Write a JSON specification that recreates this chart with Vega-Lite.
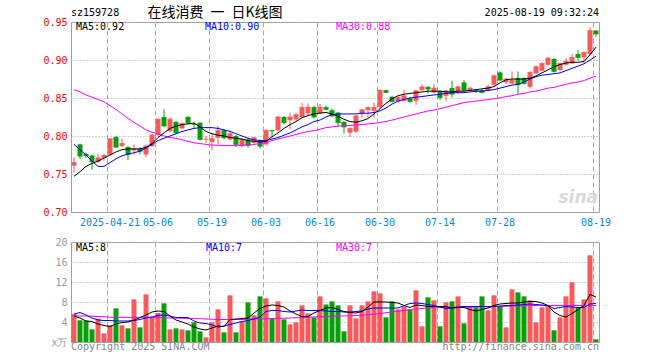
{
"$schema":"https://vega.github.io/schema/vega-lite/v6.json",
"background":"#ffffff",
"padding":{"left":42,"top":5,"right":5,"bottom":5},
"spacing":30,
"bounds":"flush",
"config":{"font":"DejaVu Sans Mono","view":{"stroke":"#a0a0a0","strokeWidth":1},"axis":{"labelFont":"DejaVu Sans Mono","labelFontSize":10,"labelOverlap":false}},
"datasets":{"k":[
{"d":"2025-04-11","o":0.761,"h":0.772,"l":0.752,"c":0.765,"v":5.6,"m5":0.747,"m10":0.789,"m30":0.861,"vm5":5.2,"vm10":5.6,"vm30":5.3,"dir":"up"},
{"d":"2025-04-14","o":0.789,"h":0.790,"l":0.770,"c":0.7735,"v":4.33,"m5":0.753,"m10":0.782,"m30":0.858,"vm5":4.8,"vm10":5.9,"vm30":5.2,"dir":"down"},
{"d":"2025-04-15","o":0.7766,"h":0.778,"l":0.771,"c":0.7744,"v":4.27,"m5":0.760,"m10":0.775,"m30":0.854,"vm5":4.2,"vm10":5.4,"vm30":5.2,"dir":"down"},
{"d":"2025-04-16","o":0.7744,"h":0.7757,"l":0.7555,"c":0.766,"v":2.53,"m5":0.764,"m10":0.767,"m30":0.851,"vm5":4.1,"vm10":4.8,"vm30":5.15,"dir":"down"},
{"d":"2025-04-17","o":0.766,"h":0.7766,"l":0.7647,"c":0.7713,"v":4.67,"m5":0.767,"m10":0.760,"m30":0.848,"vm5":3.6,"vm10":4.4,"vm30":5.1,"dir":"up"},
{"d":"2025-04-18","o":0.7713,"h":0.7766,"l":0.7678,"c":0.7744,"v":1.73,"m5":0.771,"m10":0.760,"m30":0.845,"vm5":3.3,"vm10":4.3,"vm30":5.05,"dir":"up"},
{"d":"2025-04-21","o":0.7757,"h":0.7964,"l":0.7735,"c":0.7964,"v":3.33,"m5":0.775,"m10":0.765,"m30":0.840,"vm5":3.1,"vm10":4.3,"vm30":4.95,"dir":"up"},
{"d":"2025-04-22","o":0.7986,"h":0.800,"l":0.7845,"c":0.7854,"v":6.73,"m5":0.779,"m10":0.770,"m30":0.835,"vm5":3.6,"vm10":4.2,"vm30":4.93,"dir":"down"},
{"d":"2025-04-23","o":0.7867,"h":0.7964,"l":0.7858,"c":0.7902,"v":3.33,"m5":0.782,"m10":0.774,"m30":0.829,"vm5":3.9,"vm10":4.2,"vm30":4.93,"dir":"up"},
{"d":"2025-04-24","o":0.7854,"h":0.7867,"l":0.7682,"c":0.7757,"v":2.73,"m5":0.783,"m10":0.776,"m30":0.823,"vm5":4.0,"vm10":4.2,"vm30":4.93,"dir":"down"},
{"d":"2025-04-25","o":0.781,"h":0.7889,"l":0.7757,"c":0.7832,"v":8.53,"m5":0.783,"m10":0.778,"m30":0.818,"vm5":4.4,"vm10":4.3,"vm30":4.93,"dir":"up"},
{"d":"2025-04-28","o":0.7832,"h":0.7854,"l":0.7757,"c":0.780,"v":2.93,"m5":0.783,"m10":0.780,"m30":0.813,"vm5":4.9,"vm10":4.5,"vm30":4.93,"dir":"down"},
{"d":"2025-04-29","o":0.7757,"h":0.7889,"l":0.7722,"c":0.7867,"v":9.53,"m5":0.785,"m10":0.784,"m30":0.808,"vm5":5.4,"vm10":4.8,"vm30":4.93,"dir":"up"},
{"d":"2025-04-30","o":0.7867,"h":0.8022,"l":0.7854,"c":0.8013,"v":4.93,"m5":0.790,"m10":0.789,"m30":0.805,"vm5":6.0,"vm10":5.0,"vm30":4.93,"dir":"up"},
{"d":"2025-05-06","o":0.8013,"h":0.8233,"l":0.800,"c":0.822,"v":5.8,"m5":0.798,"m10":0.794,"m30":0.803,"vm5":6.2,"vm10":5.3,"vm30":4.93,"dir":"up"},
{"d":"2025-05-07","o":0.825,"h":0.8353,"l":0.812,"c":0.8132,"v":7.73,"m5":0.804,"m10":0.797,"m30":0.800,"vm5":6.1,"vm10":5.4,"vm30":4.85,"dir":"down"},
{"d":"2025-05-08","o":0.8066,"h":0.8245,"l":0.805,"c":0.822,"v":2.53,"m5":0.810,"m10":0.800,"m30":0.798,"vm5":5.2,"vm10":5.2,"vm30":4.8,"dir":"up"},
{"d":"2025-05-09","o":0.8184,"h":0.8198,"l":0.8022,"c":0.8044,"v":2.73,"m5":0.813,"m10":0.803,"m30":0.797,"vm5":4.4,"vm10":4.9,"vm30":4.8,"dir":"down"},
{"d":"2025-05-12","o":0.810,"h":0.8176,"l":0.8088,"c":0.8162,"v":2.53,"m5":0.815,"m10":0.806,"m30":0.795,"vm5":4.0,"vm10":4.9,"vm30":4.75,"dir":"up"},
{"d":"2025-05-13","o":0.825,"h":0.8264,"l":0.8154,"c":0.8176,"v":2.33,"m5":0.816,"m10":0.808,"m30":0.793,"vm5":3.6,"vm10":4.9,"vm30":4.7,"dir":"down"},
{"d":"2025-05-14","o":0.8162,"h":0.8189,"l":0.810,"c":0.8153,"v":3.93,"m5":0.817,"m10":0.810,"m30":0.791,"vm5":3.0,"vm10":4.2,"vm30":4.67,"dir":"down"},
{"d":"2025-05-15","o":0.8176,"h":0.8176,"l":0.7942,"c":0.7955,"v":2.13,"m5":0.812,"m10":0.811,"m30":0.790,"vm5":2.6,"vm10":3.8,"vm30":4.67,"dir":"down"},
{"d":"2025-05-16","o":0.7955,"h":0.800,"l":0.791,"c":0.796,"v":0.93,"m5":0.806,"m10":0.811,"m30":0.789,"vm5":2.4,"vm10":3.7,"vm30":4.6,"dir":"up"},
{"d":"2025-05-19","o":0.792,"h":0.8022,"l":0.781,"c":0.7964,"v":3.93,"m5":0.803,"m10":0.811,"m30":0.788,"vm5":2.8,"vm10":3.4,"vm30":4.55,"dir":"up"},
{"d":"2025-05-20","o":0.7977,"h":0.8132,"l":0.7889,"c":0.8075,"v":6.53,"m5":0.801,"m10":0.810,"m30":0.7878,"vm5":3.2,"vm10":3.0,"vm30":4.5,"dir":"up"},
{"d":"2025-05-21","o":0.8075,"h":0.8088,"l":0.7955,"c":0.7977,"v":1.93,"m5":0.800,"m10":0.808,"m30":0.7876,"vm5":3.1,"vm10":3.2,"vm30":4.5,"dir":"down"},
{"d":"2025-05-22","o":0.7955,"h":0.8075,"l":0.7942,"c":0.803,"v":9.33,"m5":0.798,"m10":0.806,"m30":0.7876,"vm5":4.5,"vm10":3.5,"vm30":4.5,"dir":"up"},
{"d":"2025-05-23","o":0.800,"h":0.8013,"l":0.7854,"c":0.7889,"v":1.93,"m5":0.797,"m10":0.803,"m30":0.7876,"vm5":4.6,"vm10":3.8,"vm30":4.5,"dir":"down"},
{"d":"2025-05-26","o":0.7867,"h":0.7969,"l":0.7854,"c":0.7955,"v":4.13,"m5":0.796,"m10":0.800,"m30":0.788,"vm5":4.7,"vm10":4.1,"vm30":4.5,"dir":"up"},
{"d":"2025-05-27","o":0.7955,"h":0.7977,"l":0.7845,"c":0.7876,"v":7.93,"m5":0.794,"m10":0.797,"m30":0.788,"vm5":4.8,"vm10":4.3,"vm30":4.55,"dir":"down"},
{"d":"2025-05-28","o":0.7911,"h":0.7986,"l":0.7898,"c":0.7977,"v":5.33,"m5":0.793,"m10":0.795,"m30":0.789,"vm5":5.8,"vm10":4.6,"vm30":4.6,"dir":"up"},
{"d":"2025-05-29","o":0.7933,"h":0.7955,"l":0.7836,"c":0.7867,"v":9.13,"m5":0.792,"m10":0.794,"m30":0.790,"vm5":6.7,"vm10":5.0,"vm30":4.6,"dir":"down"},
{"d":"2025-06-03","o":0.789,"h":0.8088,"l":0.7876,"c":0.8075,"v":8.73,"m5":0.793,"m10":0.794,"m30":0.791,"vm5":7.2,"vm10":6.1,"vm30":4.65,"dir":"up"},
{"d":"2025-06-04","o":0.8075,"h":0.8075,"l":0.798,"c":0.8066,"v":4.73,"m5":0.799,"m10":0.796,"m30":0.794,"vm5":7.4,"vm10":6.3,"vm30":4.7,"dir":"down"},
{"d":"2025-06-05","o":0.8075,"h":0.8264,"l":0.8066,"c":0.825,"v":8.13,"m5":0.804,"m10":0.798,"m30":0.796,"vm5":7.3,"vm10":6.3,"vm30":4.75,"dir":"up"},
{"d":"2025-06-06","o":0.825,"h":0.8264,"l":0.8154,"c":0.8176,"v":4.53,"m5":0.810,"m10":0.801,"m30":0.798,"vm5":7.0,"vm10":6.1,"vm30":4.75,"dir":"down"},
{"d":"2025-06-09","o":0.8207,"h":0.8308,"l":0.8088,"c":0.825,"v":3.53,"m5":0.815,"m10":0.804,"m30":0.800,"vm5":6.2,"vm10":6.0,"vm30":4.8,"dir":"up"},
{"d":"2025-06-10","o":0.822,"h":0.831,"l":0.820,"c":0.828,"v":3.93,"m5":0.819,"m10":0.808,"m30":0.802,"vm5":5.6,"vm10":6.2,"vm30":4.85,"dir":"up"},
{"d":"2025-06-11","o":0.825,"h":0.8436,"l":0.823,"c":0.8375,"v":7.33,"m5":0.824,"m10":0.812,"m30":0.804,"vm5":5.1,"vm10":6.4,"vm30":4.9,"dir":"up"},
{"d":"2025-06-12","o":0.830,"h":0.843,"l":0.826,"c":0.838,"v":5.73,"m5":0.827,"m10":0.815,"m30":0.806,"vm5":5.1,"vm10":6.3,"vm30":4.95,"dir":"up"},
{"d":"2025-06-13","o":0.838,"h":0.840,"l":0.823,"c":0.825,"v":4.93,"m5":0.829,"m10":0.819,"m30":0.807,"vm5":5.8,"vm10":6.3,"vm30":5.0,"dir":"down"},
{"d":"2025-06-16","o":0.830,"h":0.8418,"l":0.829,"c":0.838,"v":9.13,"m5":0.830,"m10":0.821,"m30":0.809,"vm5":6.3,"vm10":6.3,"vm30":5.05,"dir":"up"},
{"d":"2025-06-17","o":0.838,"h":0.840,"l":0.834,"c":0.835,"v":7.5,"m5":0.831,"m10":0.825,"m30":0.811,"vm5":6.8,"vm10":6.2,"vm30":5.1,"dir":"down"},
{"d":"2025-06-18","o":0.834,"h":0.836,"l":0.825,"c":0.8264,"v":8.13,"m5":0.829,"m10":0.828,"m30":0.812,"vm5":6.9,"vm10":6.1,"vm30":5.15,"dir":"down"},
{"d":"2025-06-19","o":0.8308,"h":0.832,"l":0.8119,"c":0.8176,"v":7.33,"m5":0.826,"m10":0.829,"m30":0.813,"vm5":6.5,"vm10":6.1,"vm30":5.2,"dir":"down"},
{"d":"2025-06-20","o":0.8185,"h":0.8198,"l":0.8031,"c":0.8119,"v":2.13,"m5":0.822,"m10":0.829,"m30":0.8135,"vm5":6.1,"vm10":6.0,"vm30":5.2,"dir":"down"},
{"d":"2025-06-23","o":0.8044,"h":0.811,"l":0.7987,"c":0.8101,"v":7.33,"m5":0.819,"m10":0.829,"m30":0.814,"vm5":5.9,"vm10":6.0,"vm30":5.25,"dir":"up"},
{"d":"2025-06-24","o":0.8057,"h":0.8277,"l":0.8044,"c":0.8264,"v":4.73,"m5":0.818,"m10":0.829,"m30":0.8145,"vm5":5.8,"vm10":6.1,"vm30":5.3,"dir":"up"},
{"d":"2025-06-25","o":0.8287,"h":0.8353,"l":0.8234,"c":0.8344,"v":7.33,"m5":0.820,"m10":0.830,"m30":0.815,"vm5":6.1,"vm10":6.2,"vm30":5.35,"dir":"up"},
{"d":"2025-06-26","o":0.834,"h":0.839,"l":0.824,"c":0.8375,"v":8.13,"m5":0.823,"m10":0.830,"m30":0.816,"vm5":7.0,"vm10":6.6,"vm30":5.45,"dir":"up"},
{"d":"2025-06-27","o":0.8331,"h":0.844,"l":0.8243,"c":0.8375,"v":10.13,"m5":0.829,"m10":0.831,"m30":0.8165,"vm5":8.0,"vm10":6.8,"vm30":5.55,"dir":"up"},
{"d":"2025-06-30","o":0.8384,"h":0.861,"l":0.836,"c":0.8603,"v":9.73,"m5":0.836,"m10":0.833,"m30":0.818,"vm5":8.0,"vm10":6.8,"vm30":5.7,"dir":"up"},
{"d":"2025-07-01","o":0.8603,"h":0.861,"l":0.8565,"c":0.8573,"v":4.93,"m5":0.843,"m10":0.837,"m30":0.819,"vm5":8.0,"vm10":6.8,"vm30":5.85,"dir":"down"},
{"d":"2025-07-02","o":0.8516,"h":0.853,"l":0.844,"c":0.8454,"v":8.13,"m5":0.849,"m10":0.842,"m30":0.821,"vm5":7.9,"vm10":6.8,"vm30":6.0,"dir":"down"},
{"d":"2025-07-03","o":0.8454,"h":0.852,"l":0.844,"c":0.8507,"v":6.53,"m5":0.853,"m10":0.846,"m30":0.823,"vm5":7.8,"vm10":6.8,"vm30":6.15,"dir":"up"},
{"d":"2025-07-04","o":0.8463,"h":0.8603,"l":0.8446,"c":0.8529,"v":7.13,"m5":0.855,"m10":0.848,"m30":0.825,"vm5":7.3,"vm10":7.3,"vm30":6.3,"dir":"up"},
{"d":"2025-07-07","o":0.8498,"h":0.851,"l":0.844,"c":0.8454,"v":6.53,"m5":0.856,"m10":0.850,"m30":0.827,"vm5":6.9,"vm10":7.7,"vm30":6.45,"dir":"down"},
{"d":"2025-07-08","o":0.8463,"h":0.8603,"l":0.841,"c":0.8595,"v":10.33,"m5":0.857,"m10":0.851,"m30":0.829,"vm5":7.4,"vm10":7.8,"vm30":6.6,"dir":"up"},
{"d":"2025-07-09","o":0.8603,"h":0.8683,"l":0.8595,"c":0.8647,"v":3.13,"m5":0.858,"m10":0.852,"m30":0.831,"vm5":7.3,"vm10":7.7,"vm30":6.7,"dir":"up"},
{"d":"2025-07-10","o":0.8647,"h":0.8656,"l":0.856,"c":0.8617,"v":8.93,"m5":0.859,"m10":0.853,"m30":0.833,"vm5":7.1,"vm10":7.5,"vm30":6.8,"dir":"down"},
{"d":"2025-07-11","o":0.8573,"h":0.8683,"l":0.856,"c":0.863,"v":8.33,"m5":0.859,"m10":0.854,"m30":0.834,"vm5":7.1,"vm10":7.3,"vm30":6.85,"dir":"up"},
{"d":"2025-07-14","o":0.8586,"h":0.8603,"l":0.8472,"c":0.8507,"v":3.13,"m5":0.859,"m10":0.855,"m30":0.836,"vm5":7.1,"vm10":7.0,"vm30":6.9,"dir":"down"},
{"d":"2025-07-15","o":0.8529,"h":0.8603,"l":0.8454,"c":0.8595,"v":7.93,"m5":0.858,"m10":0.856,"m30":0.838,"vm5":7.1,"vm10":6.7,"vm30":6.9,"dir":"up"},
{"d":"2025-07-16","o":0.863,"h":0.8727,"l":0.8507,"c":0.8551,"v":8.13,"m5":0.858,"m10":0.857,"m30":0.840,"vm5":6.8,"vm10":6.8,"vm30":6.93,"dir":"down"},
{"d":"2025-07-17","o":0.8586,"h":0.8661,"l":0.8551,"c":0.8647,"v":9.13,"m5":0.859,"m10":0.857,"m30":0.842,"vm5":6.9,"vm10":7.0,"vm30":6.93,"dir":"up"},
{"d":"2025-07-18","o":0.8705,"h":0.8735,"l":0.8573,"c":0.8603,"v":3.73,"m5":0.859,"m10":0.857,"m30":0.844,"vm5":6.9,"vm10":7.1,"vm30":6.93,"dir":"down"},
{"d":"2025-07-21","o":0.8595,"h":0.8647,"l":0.8586,"c":0.863,"v":6.93,"m5":0.860,"m10":0.858,"m30":0.845,"vm5":6.5,"vm10":7.1,"vm30":6.95,"dir":"up"},
{"d":"2025-07-22","o":0.8603,"h":0.862,"l":0.857,"c":0.8586,"v":6.93,"m5":0.861,"m10":0.859,"m30":0.846,"vm5":6.2,"vm10":7.1,"vm30":7.0,"dir":"down"},
{"d":"2025-07-23","o":0.8603,"h":0.862,"l":0.856,"c":0.8573,"v":9.13,"m5":0.862,"m10":0.859,"m30":0.847,"vm5":6.5,"vm10":7.1,"vm30":7.0,"dir":"down"},
{"d":"2025-07-24","o":0.8595,"h":0.8674,"l":0.8586,"c":0.8647,"v":6.33,"m5":0.863,"m10":0.860,"m30":0.848,"vm5":6.8,"vm10":7.1,"vm30":7.05,"dir":"up"},
{"d":"2025-07-25","o":0.8674,"h":0.8806,"l":0.8661,"c":0.8793,"v":9.33,"m5":0.865,"m10":0.861,"m30":0.849,"vm5":7.3,"vm10":7.1,"vm30":7.1,"dir":"up"},
{"d":"2025-07-28","o":0.8837,"h":0.885,"l":0.8727,"c":0.8735,"v":7.13,"m5":0.870,"m10":0.863,"m30":0.850,"vm5":7.6,"vm10":7.2,"vm30":7.1,"dir":"down"},
{"d":"2025-07-29","o":0.8705,"h":0.8762,"l":0.8683,"c":0.8749,"v":2.93,"m5":0.874,"m10":0.865,"m30":0.852,"vm5":7.7,"vm10":7.3,"vm30":7.15,"dir":"up"},
{"d":"2025-07-30","o":0.8691,"h":0.885,"l":0.8683,"c":0.8735,"v":10.53,"m5":0.875,"m10":0.867,"m30":0.853,"vm5":7.8,"vm10":7.3,"vm30":7.2,"dir":"up"},
{"d":"2025-07-31","o":0.8762,"h":0.885,"l":0.8551,"c":0.8674,"v":9.93,"m5":0.875,"m10":0.868,"m30":0.855,"vm5":7.8,"vm10":7.4,"vm30":7.2,"dir":"down"},
{"d":"2025-08-01","o":0.8762,"h":0.8771,"l":0.8674,"c":0.8691,"v":9.13,"m5":0.875,"m10":0.871,"m30":0.856,"vm5":8.0,"vm10":7.5,"vm30":7.25,"dir":"down"},
{"d":"2025-08-04","o":0.8647,"h":0.885,"l":0.863,"c":0.8837,"v":8.33,"m5":0.876,"m10":0.875,"m30":0.858,"vm5":8.1,"vm10":7.6,"vm30":7.3,"dir":"up"},
{"d":"2025-08-05","o":0.8823,"h":0.8925,"l":0.8815,"c":0.8912,"v":3.93,"m5":0.879,"m10":0.878,"m30":0.859,"vm5":8.1,"vm10":7.5,"vm30":7.3,"dir":"up"},
{"d":"2025-08-06","o":0.8859,"h":0.8969,"l":0.885,"c":0.8955,"v":6.93,"m5":0.883,"m10":0.880,"m30":0.861,"vm5":7.8,"vm10":7.4,"vm30":7.3,"dir":"up"},
{"d":"2025-08-07","o":0.8938,"h":0.9035,"l":0.8925,"c":0.9026,"v":7.33,"m5":0.887,"m10":0.881,"m30":0.863,"vm5":7.3,"vm10":7.3,"vm30":7.3,"dir":"up"},
{"d":"2025-08-08","o":0.9013,"h":0.9026,"l":0.8837,"c":0.885,"v":2.33,"m5":0.891,"m10":0.882,"m30":0.864,"vm5":6.0,"vm10":6.7,"vm30":7.3,"dir":"down"},
{"d":"2025-08-11","o":0.8868,"h":0.8969,"l":0.885,"c":0.8955,"v":4.93,"m5":0.894,"m10":0.883,"m30":0.866,"vm5":5.3,"vm10":6.9,"vm30":7.3,"dir":"up"},
{"d":"2025-08-12","o":0.8938,"h":0.9026,"l":0.8925,"c":0.8982,"v":9.13,"m5":0.896,"m10":0.886,"m30":0.868,"vm5":5.0,"vm10":7.1,"vm30":7.3,"dir":"up"},
{"d":"2025-08-13","o":0.8955,"h":0.9079,"l":0.8947,"c":0.9035,"v":11.93,"m5":0.897,"m10":0.889,"m30":0.870,"vm5":5.7,"vm10":7.0,"vm30":7.3,"dir":"up"},
{"d":"2025-08-14","o":0.9079,"h":0.9132,"l":0.8991,"c":0.9035,"v":6.93,"m5":0.897,"m10":0.892,"m30":0.871,"vm5":6.5,"vm10":6.9,"vm30":7.3,"dir":"down"},
{"d":"2025-08-15","o":0.9035,"h":0.9114,"l":0.8955,"c":0.9101,"v":8.53,"m5":0.898,"m10":0.895,"m30":0.873,"vm5":7.3,"vm10":6.9,"vm30":7.3,"dir":"up"},
{"d":"2025-08-18","o":0.9079,"h":0.9431,"l":0.9057,"c":0.9387,"v":17.33,"m5":0.907,"m10":0.900,"m30":0.876,"vm5":9.5,"vm10":7.6,"vm30":7.3,"dir":"up"},
{"d":"2025-08-19","o":0.9387,"h":0.9396,"l":0.9308,"c":0.9343,"v":0.53,"m5":0.917,"m10":0.905,"m30":0.879,"vm5":9.0,"vm10":7.7,"vm30":7.3,"dir":"down"}
]},
"vconcat":[
{
"width":528,"height":190,
"data":{"name":"k"},
"encoding":{"x":{"field":"d","type":"ordinal","scale":{"paddingInner":0,"paddingOuter":0},
  "axis":{"values":["2025-04-21","2025-05-06","2025-05-19","2025-06-03","2025-06-16","2025-06-30","2025-07-14","2025-07-28","2025-08-19"],
  "labelExpr":"datum.value == '2025-04-21' ? datum.value : slice(datum.value, 5)","bandPosition":0,"ticks":false,"domain":false,
  "labelColor":"#0a88dc","labelAngle":0,"labelPadding":5,"labelOverlap":false,"labelBound":false,"labelFontSize":10,
  "grid":true,"gridColor":"#aaaaaa","gridDash":[5,3],"title":null}}},
"layer":[
 {"mark":{"type":"rule","strokeWidth":1},
  "encoding":{"y":{"field":"l","type":"quantitative","scale":{"domain":[0.7,0.95],"zero":false,"nice":false},
    "axis":{"values":[0.7,0.75,0.8,0.85,0.9,0.95],"tickCount":20,"format":".2f","labelColor":"#ff0000","ticks":false,"domain":false,"labelPadding":4,"labelFontSize":10,"labelOverlap":false,"labelBound":false,
    "grid":true,"gridColor":"#aaaaaa","gridDash":[1,2],"title":null}},
   "y2":{"field":"h"},
   "color":{"field":"dir","type":"nominal","scale":{"domain":["up","down"],"range":["#f65a5a","#0a9e0a"]},"legend":null}}},
 {"mark":{"type":"bar","width":5},
  "encoding":{"y":{"field":"o","type":"quantitative"},"y2":{"field":"c"},
   "color":{"field":"dir","type":"nominal","legend":null}}},
 {"mark":{"type":"tick","thickness":1,"size":5},
  "encoding":{"y":{"field":"c","type":"quantitative"},
   "color":{"field":"dir","type":"nominal","legend":null}}},
 {"mark":{"type":"line","color":"#ff00ff","strokeWidth":1},"encoding":{"y":{"field":"m30","type":"quantitative"}}},
 {"mark":{"type":"line","color":"#0000ff","strokeWidth":1},"encoding":{"y":{"field":"m10","type":"quantitative"}}},
 {"mark":{"type":"line","color":"#000000","strokeWidth":1},"encoding":{"y":{"field":"m5","type":"quantitative"}}},
 {"data":{"values":[{}]},"mark":{"type":"text","align":"left","baseline":"middle","dy":-9,"fontSize":10,"font":"DejaVu Sans Mono","color":"#000"},
  "encoding":{"x":{"datum":"2025-04-11","bandPosition":0},"y":{"datum":0.95},"text":{"value":"sz159728"}}},
 {"data":{"values":[{}]},"mark":{"type":"text","align":"center","baseline":"middle","dy":-9,"fontSize":14,"font":"Noto Sans CJK SC","color":"#000"},
  "encoding":{"x":{"datum":"2025-05-20","bandPosition":0},"y":{"datum":0.95},"text":{"value":"在线消费\u2002一\u2002日K线图"}}},
 {"data":{"values":[{}]},"mark":{"type":"text","align":"right","baseline":"middle","dy":-9,"fontSize":10,"font":"DejaVu Sans Mono","color":"#000"},
  "encoding":{"x":{"datum":"2025-08-19","bandPosition":1},"y":{"datum":0.95},"text":{"value":"2025-08-19 09:32:24"}}},
 {"data":{"values":[{}]},"mark":{"type":"text","align":"left","baseline":"middle","dx":5,"dy":5,"fontSize":10,"font":"DejaVu Sans Mono","color":"#000000"},
  "encoding":{"x":{"datum":"2025-04-11","bandPosition":0},"y":{"datum":0.95},"text":{"value":"MA5:0.92"}}},
 {"data":{"values":[{}]},"mark":{"type":"text","align":"left","baseline":"middle","dx":2,"dy":5,"fontSize":10,"font":"DejaVu Sans Mono","color":"#0000ff"},
  "encoding":{"x":{"datum":"2025-05-16","bandPosition":0},"y":{"datum":0.95},"text":{"value":"MA10:0.90"}}},
 {"data":{"values":[{}]},"mark":{"type":"text","align":"left","baseline":"middle","dx":1,"dy":5,"fontSize":10,"font":"DejaVu Sans Mono","color":"#ff00ff"},
  "encoding":{"x":{"datum":"2025-06-19","bandPosition":0},"y":{"datum":0.95},"text":{"value":"MA30:0.88"}}},
 {"data":{"values":[{}]},"mark":{"type":"text","align":"right","baseline":"middle","dx":-1,"fontSize":17,"font":"DejaVu Sans","fontWeight":"bold","fontStyle":"italic","color":"#d8d8d8"},
  "encoding":{"x":{"datum":"2025-08-19","bandPosition":1},"y":{"datum":0.718},"text":{"value":"sina"}}}
]
},
{
"width":528,"height":100,
"data":{"name":"k"},
"encoding":{"x":{"field":"d","type":"ordinal","scale":{"paddingInner":0,"paddingOuter":0},
  "axis":{"values":["2025-04-21","2025-05-06","2025-05-19","2025-06-03","2025-06-16","2025-06-30","2025-07-14","2025-07-28","2025-08-19"],
  "labels":false,"bandPosition":0,"ticks":false,"domain":false,"grid":true,"gridColor":"#aaaaaa","gridDash":[5,3],"title":null}}},
"layer":[
 {"mark":{"type":"bar","width":5},
  "encoding":{"y":{"field":"v","type":"quantitative","scale":{"domain":[0,20],"nice":false},
    "axis":{"values":[0,4,8,12,16,20],"tickCount":20,"labelExpr":"datum.value == 0 ? 'x万' : datum.label","labelColor":"#999999","ticks":false,"domain":false,"labelPadding":4,"labelFontSize":10,"labelOverlap":false,"labelBound":false,
    "grid":true,"gridColor":"#aaaaaa","gridDash":[1,2],"title":null}},
   "color":{"field":"dir","type":"nominal","scale":{"domain":["up","down"],"range":["#f65a5a","#0a9e0a"]},"legend":null}}},
 {"mark":{"type":"line","color":"#ff00ff","strokeWidth":1},"encoding":{"y":{"field":"vm30","type":"quantitative"}}},
 {"mark":{"type":"line","color":"#0000ff","strokeWidth":1},"encoding":{"y":{"field":"vm10","type":"quantitative"}}},
 {"mark":{"type":"line","color":"#000000","strokeWidth":1},"encoding":{"y":{"field":"vm5","type":"quantitative"}}},
 {"data":{"values":[{}]},"mark":{"type":"text","align":"left","baseline":"middle","dx":5,"dy":6,"fontSize":10,"font":"DejaVu Sans Mono","color":"#000000"},
  "encoding":{"x":{"datum":"2025-04-11","bandPosition":0},"y":{"datum":20},"text":{"value":"MA5:8"}}},
 {"data":{"values":[{}]},"mark":{"type":"text","align":"left","baseline":"middle","dx":3,"dy":6,"fontSize":10,"font":"DejaVu Sans Mono","color":"#0000ff"},
  "encoding":{"x":{"datum":"2025-05-16","bandPosition":0},"y":{"datum":20},"text":{"value":"MA10:7"}}},
 {"data":{"values":[{}]},"mark":{"type":"text","align":"left","baseline":"middle","dx":1,"dy":6,"fontSize":10,"font":"DejaVu Sans Mono","color":"#ff00ff"},
  "encoding":{"x":{"datum":"2025-06-19","bandPosition":0},"y":{"datum":20},"text":{"value":"MA30:7"}}},
 {"data":{"values":[{}]},"mark":{"type":"text","align":"left","baseline":"middle","dy":5,"fontSize":10,"font":"DejaVu Sans Mono","color":"#888888"},
  "encoding":{"x":{"datum":"2025-04-11","bandPosition":0},"y":{"datum":0},"text":{"value":"Copyright 2025 SINA.COM"}}},
 {"data":{"values":[{}]},"mark":{"type":"text","align":"right","baseline":"middle","dy":5,"fontSize":10,"font":"DejaVu Sans Mono","color":"#888888"},
  "encoding":{"x":{"datum":"2025-08-19","bandPosition":1},"y":{"datum":0},"text":{"value":"http://finance.sina.com.cn"}}}
]
}
]
}
